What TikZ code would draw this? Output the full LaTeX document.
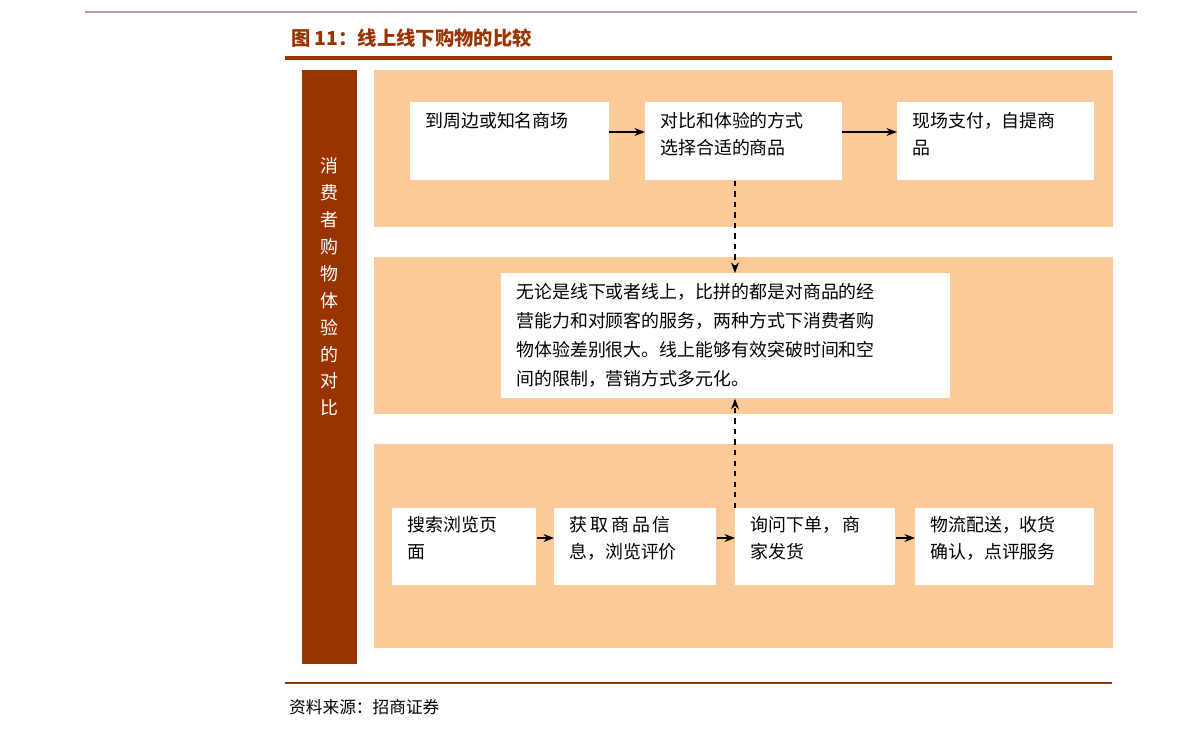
\documentclass[tikz,border=0pt]{standalone}
\usepackage{fontspec}
\setmainfont{Noto Sans CJK SC}
\usetikzlibrary{positioning,arrows.meta}
\definecolor{brn}{RGB}{153,51,0}
\definecolor{pnl}{RGB}{252,201,152}
\definecolor{hdr}{RGB}{190,160,150}

\begin{document}
\begin{tikzpicture}[x=0.02cm,y=-0.02cm,font=\fontsize{10.2pt}{15.4pt}\selectfont]
\tikzstyle{panel}=[fill=pnl,draw=none];
\tikzstyle{box}=[fill=white,draw=none,anchor=north west,inner sep=0pt,align=left];
\tikzstyle{flow}=[-{Stealth[length=6pt]},thick];
\tikzstyle{dashlink}=[-{Stealth[length=6pt]},dashed,thick];

\useasboundingbox (0,0) rectangle (1191,738);

% header and title
\draw[hdr,thick] (85,12) -- (1137,12);
\node[anchor=west,text=brn,font=\fontsize{11pt}{13pt}\selectfont\bfseries] (title) at (285,38) {图 11：线上线下购物的比较};
\draw[brn,line width=2.2pt] (285,58) -- (1112,58);

% left bar
\fill[brn] (302,70) rectangle (357,664);
\node[text=white,align=center,font=\fontsize{10.2pt}{15.3pt}\selectfont] (side) at (329.5,287)
  {消\\费\\者\\购\\物\\体\\验\\的\\对\\比};

% panels
\fill[panel] (374,70) rectangle (1113,227);
\fill[panel] (374,257) rectangle (1113,414);
\fill[panel] (374,444) rectangle (1113,648);

% top row
\node[box,minimum width=3.98cm,minimum height=1.56cm] (shop) at (410,102) {};
\node[anchor=north west,align=left,inner sep=0pt] (shopt) at (425,112) {到周边或知名商场};
\node[box,minimum width=3.94cm,minimum height=1.56cm] (cmp) at (645,102) {};
\node[anchor=north west,align=left,inner sep=0pt] (cmpt) at (660,112) {对比和体验的方式\\选择合适的商品};
\node[box,minimum width=3.94cm,minimum height=1.56cm] (pay) at (897,102) {};
\node[anchor=north west,align=left,inner sep=0pt] (payt) at (912,112) {现场支付，自提商\\品};

\draw[flow] (609,132) -- (645,132);
\draw[flow] (842,132) -- (897,132);

% middle
\node[box,minimum width=8.98cm,minimum height=2.5cm] (note) at (501,273) {};
\node[anchor=north west,align=left,inner sep=0pt,font=\fontsize{10.2pt}{16.5pt}\selectfont] (notet) at (516,283)
  {无论是线下或者线上，比拼的都是对商品的经\\营能力和对顾客的服务，两种方式下消费者购\\物体验差别很大。线上能够有效突破时间和空\\间的限制，营销方式多元化。};

% bottom row
\node[box,minimum width=2.88cm,minimum height=1.54cm] (srch) at (392,508) {};
\node[anchor=north west,align=left,inner sep=0pt] (srcht) at (407,516) {搜索浏览页\\面};
\node[box,minimum width=3.24cm,minimum height=1.54cm] (info) at (554,508) {};
\node[anchor=north west,align=left,inner sep=0pt] (infot) at (569,516) {获\,取\,商\,品\,信\\息，浏览评价};
\node[box,minimum width=3.2cm,minimum height=1.54cm] (ordr) at (735,508) {};
\node[anchor=north west,align=left,inner sep=0pt] (ordrt) at (750,516) {询问下单，\,商\\家发货};
\node[box,minimum width=3.58cm,minimum height=1.54cm] (ship) at (915,508) {};
\node[anchor=north west,align=left,inner sep=0pt] (shipt) at (930,516) {物流配送，收货\\确认，点评服务};

\draw[flow] (srch.east |- 0,538) -- (info.west |- 0,538);
\draw[flow] (info.east |- 0,538) -- (ordr.west |- 0,538);
\draw[flow] (ordr.east |- 0,538) -- (ship.west |- 0,538);

% dashed links
\draw[dashlink] (cmp.south -| 735,0) -- (note.north -| 735,0);
\draw[dashlink] (ordr.north west) -- (note.south -| 735,0);

% footer
\draw[brn,line width=1.2pt] (285,683) -- (1112,683);
\node[anchor=west,font=\fontsize{9.5pt}{11pt}\selectfont] (src) at (283,707) {资料来源：招商证券};
\end{tikzpicture}
\end{document}
